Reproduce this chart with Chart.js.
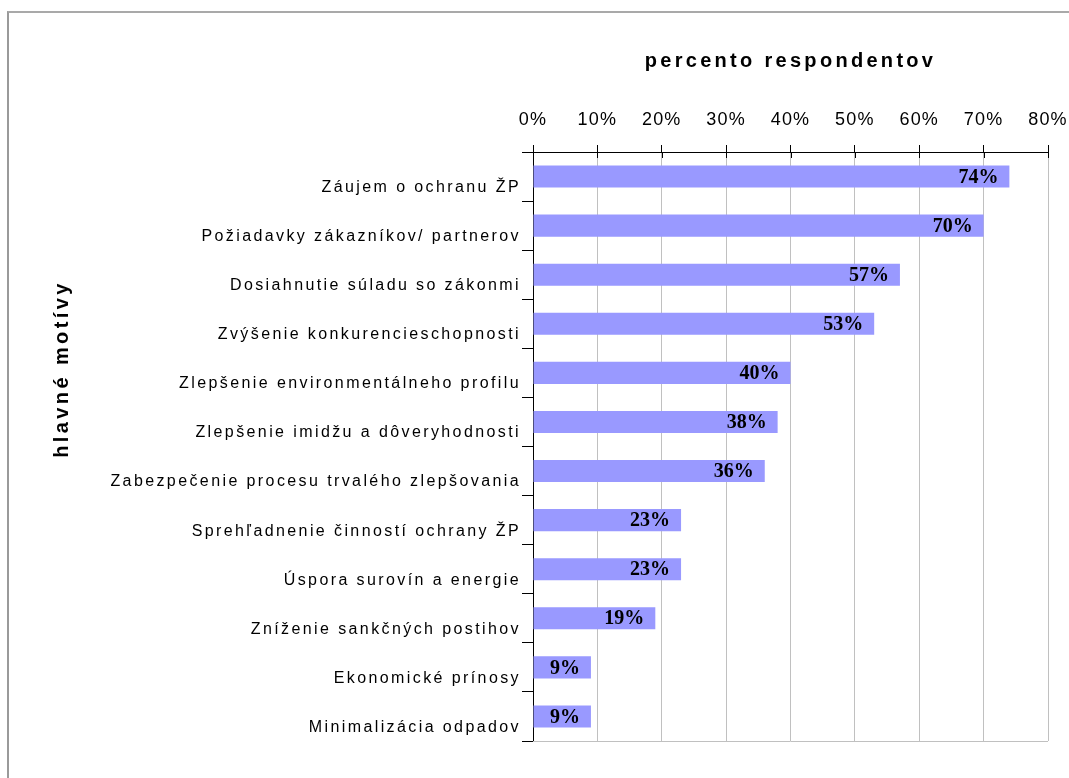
<!DOCTYPE html>
<html>
<head>
<meta charset="utf-8">
<script src="https://cdn.jsdelivr.net/npm/chart.js@4.4.0/dist/chart.umd.min.js"></script>
<style>
  html, body { margin: 0; padding: 0; background: #fff; }
  #wrap { position: relative; width: 1069px; height: 778px; overflow: hidden; }
  #frame { position: absolute; left: 7px; top: 11px; width: 1100px; height: 800px;
           border-top: 2px solid #a9a9a9; border-left: 2px solid #9a9a9a; }
  canvas { position: absolute; left: 0; top: 0; }
</style>
</head>
<body>
<div id="wrap">
  <div id="frame"></div>
  <canvas id="chart" width="1069" height="778"></canvas>
</div>
<script>
'use strict';

// **** Data ****
let motives = [
  'Záujem o ochranu ŽP',
  'Požiadavky zákazníkov/ partnerov',
  'Dosiahnutie súladu so zákonmi',
  'Zvýšenie konkurencieschopnosti',
  'Zlepšenie environmentálneho profilu',
  'Zlepšenie imidžu a dôveryhodnosti',
  'Zabezpečenie procesu trvalého zlepšovania',
  'Sprehľadnenie činností ochrany ŽP',
  'Úspora surovín a energie',
  'Zníženie sankčných postihov',
  'Ekonomické prínosy',
  'Minimalizácia odpadov'
];
let percents = [74, 70, 57, 53, 40, 38, 36, 23, 23, 19, 9, 9];
let xTicks = [0, 10, 20, 30, 40, 50, 60, 70, 80];

let xTitle = 'percento respondentov';
let yTitle = 'hlavné motívy';

let chartCanvas = document.getElementById('chart');

// **** Helpers ****

// Excel style wide text spacing, set per scale before its labels / title draw
function spaceScale(tickSpacing, titleSpacing) {
  return function(scale) {
    if (scale._spaced) return;
    let origLabels = scale.drawLabels;
    let origTitle = scale.drawTitle;
    scale.drawLabels = function() {
      this.ctx.letterSpacing = tickSpacing;
      origLabels.apply(this, arguments);
      this.ctx.letterSpacing = '0px';
    };
    scale.drawTitle = function() {
      this.ctx.letterSpacing = titleSpacing;
      origTitle.apply(this, arguments);
      this.ctx.letterSpacing = '0px';
    };
    scale._spaced = true;
  };
}

let extrasPlugin = {
  id: 'extras',
  afterDraw(chart) {
    let ctx = chart.ctx;
    let area = chart.chartArea;
    let xScale = chart.scales.x;

    ctx.save();
    // bottom border of plot area
    ctx.strokeStyle = '#c0c0c0';
    ctx.lineWidth = 1;
    ctx.beginPath();
    ctx.moveTo(area.left, area.bottom + 0.5);
    ctx.lineTo(area.right, area.bottom + 0.5);
    ctx.stroke();

    // tick marks crossing the top axis
    ctx.strokeStyle = '#000';
    xScale.ticks.forEach(function(t){
      let px = Math.round(xScale.getPixelForValue(t.value)) + 0.5;
      ctx.beginPath();
      ctx.moveTo(px, area.top);
      ctx.lineTo(px, area.top + 6);
      ctx.stroke();
    });

    // value labels at bar ends
    let meta = chart.getDatasetMeta(0);
    ctx.letterSpacing = '0px';
    ctx.font = 'bold 20px "Liberation Serif", "Times New Roman", serif';
    ctx.fillStyle = '#000';
    ctx.textAlign = 'right';
    ctx.textBaseline = 'middle';
    meta.data.forEach(function(bar, i){
      ctx.fillText(percents[i] + '%', bar.x - 11, bar.y + 1);
    });

    // y axis title
    ctx.letterSpacing = '3.4px';
    ctx.font = 'bold 20px "Liberation Sans", Arial, sans-serif';
    ctx.textAlign = 'center';
    ctx.translate(62, 369);
    ctx.rotate(-Math.PI / 2);
    ctx.fillText(yTitle, 0, 0);
    ctx.restore();
  }
};

// **** Chart ****

let chartObj = {
  type: 'bar',
  data: {
    labels: motives,
    datasets: [{
      data: percents,
      backgroundColor: '#9999ff',
      borderWidth: 0,
      barPercentage: 0.45,
      categoryPercentage: 1
    }]
  },
  options: {
    indexAxis: 'y',
    responsive: false,
    animation: false,
    layout: { padding: { top: 0, left: 0, right: 0, bottom: 37 } },
    plugins: {
      legend: { display: false },
      tooltip: { enabled: false }
    },
    scales: {
      x: {
        position: 'top',
        min: 0,
        max: 80,
        afterBuildTicks(scale) {
          scale.ticks = xTicks.map(function(v){ return { value: v }; });
        },
        afterFit(scale) {
          scale.height = 152;
          scale.paddingRight = 21;
        },
        afterUpdate: spaceScale('1.2px', '3.3px'),
        ticks: {
          color: '#000',
          font: { family: '"Liberation Sans", Arial, sans-serif', size: 18 },
          padding: 14,
          callback(v) { return v + '%'; }
        },
        grid: {
          color(c) { return c.index === 0 ? 'rgba(0,0,0,0)' : '#c0c0c0'; },
          tickColor: '#000',
          tickLength: 7,
          lineWidth: 1
        },
        border: { color: '#000', width: 1 },
        title: {
          display: true,
          text: xTitle,
          color: '#000',
          font: { family: '"Liberation Sans", Arial, sans-serif', size: 20, weight: 'bold' },
          padding: { top: 49, bottom: 0 }
        }
      },
      y: {
        afterFit(scale) { scale.width = 533; },
        afterUpdate: spaceScale('2.4px', '0px'),
        ticks: {
          color: '#000',
          font: { family: '"Liberation Sans", Arial, sans-serif', size: 16 },
          padding: 1,
          labelOffset: 11
        },
        grid: {
          drawOnChartArea: false,
          tickColor: '#000',
          tickLength: 11,
          offset: true
        },
        border: { color: '#000', width: 1 }
      }
    }
  },
  plugins: [extrasPlugin]
};

new Chart(chartCanvas, chartObj);
</script>
</body>
</html>
